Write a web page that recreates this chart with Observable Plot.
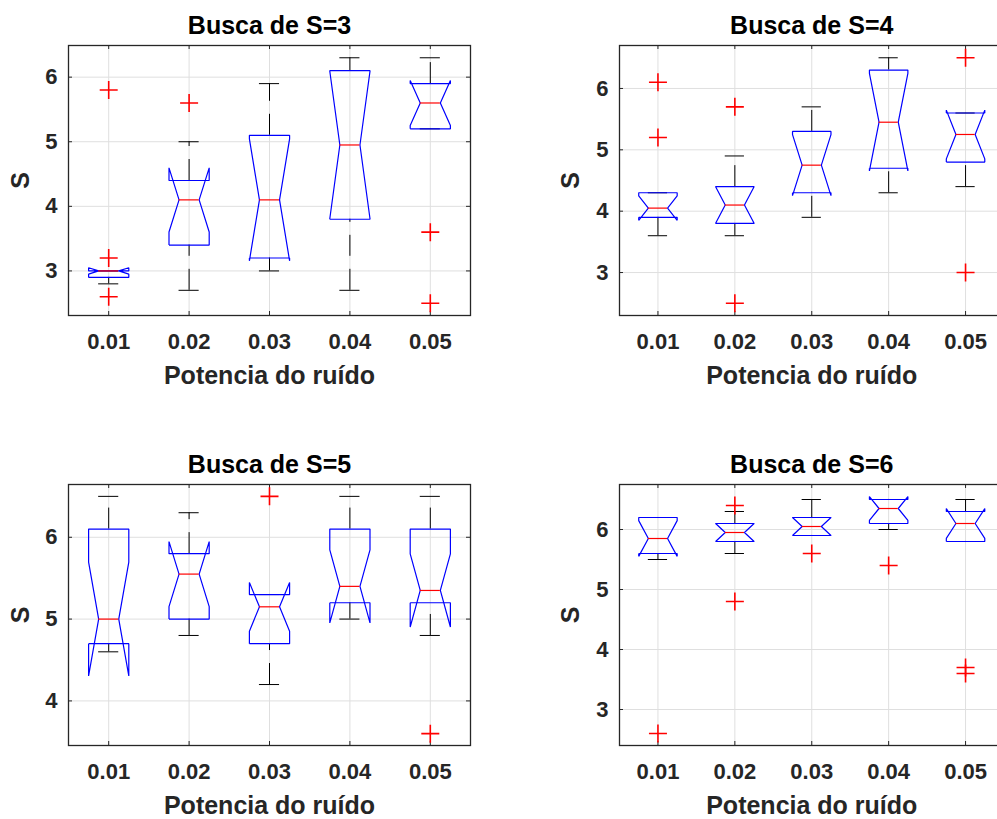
<!DOCTYPE html>
<html><head><meta charset="utf-8">
<script src="https://cdn.jsdelivr.net/npm/d3@7"></script>
<script src="https://cdn.jsdelivr.net/npm/@observablehq/plot@0.6"></script>
<style>
html,body{margin:0;padding:0;background:#fff;overflow:hidden;}
#chart{position:relative;width:997px;height:819px;overflow:hidden;background:#fff;}
#chart svg{position:absolute;}
</style></head><body><div id="chart"></div>
<script>
// ---- data ----
const noiseLevels = ["0.01", "0.02", "0.03", "0.04", "0.05"];
const panelTitles = ["Busca de S=3", "Busca de S=4", "Busca de S=5", "Busca de S=6"];
const xLabel = "Potencia do ruído";
const yLabel = "S";
const sampleCount = 10;

const s3_q1 = [2.9, 3.4, 3.2, 3.8, 5.2];
const s3_median = [3.0, 4.1, 4.1, 4.95, 5.6];
const s3_q3 = [3.0, 4.4, 5.1, 6.1, 5.9];
const s3_whiskerLow = [2.8, 2.7, 3.0, 2.7, 5.2];
const s3_whiskerHigh = [3.0, 5.0, 5.9, 6.3, 6.3];
const s3_outliers = [[5.8, 3.2, 2.6], [5.6], [], [], [3.6, 2.5]];
const s3_yTicks = [3, 4, 5, 6];
const s3_yDomain = [2.31, 6.49];

const s4_q1 = [3.9, 3.8, 4.3, 4.7, 4.8];
const s4_median = [4.05, 4.1, 4.75, 5.45, 5.25];
const s4_q3 = [4.3, 4.4, 5.3, 6.3, 5.6];
const s4_whiskerLow = [3.6, 3.6, 3.9, 4.3, 4.4];
const s4_whiskerHigh = [4.3, 4.9, 5.7, 6.5, 5.6];
const s4_outliers = [[6.1, 5.2], [5.7, 2.5], [], [], [6.5, 3.0]];
const s4_yTicks = [3, 4, 5, 6];
const s4_yDomain = [2.3, 6.7];

const s5_q1 = [4.7, 5.0, 4.7, 5.2, 5.2];
const s5_median = [5.0, 5.55, 5.15, 5.4, 5.35];
const s5_q3 = [6.1, 5.8, 5.3, 6.1, 6.1];
const s5_whiskerLow = [4.6, 4.8, 4.2, 5.0, 4.8];
const s5_whiskerHigh = [6.5, 6.3, 5.3, 6.5, 6.5];
const s5_outliers = [[], [], [6.5], [], [3.6]];
const s5_yTicks = [4, 5, 6];
const s5_yDomain = [3.455, 6.645];

const s6_q1 = [5.6, 5.8, 5.9, 6.1, 5.8];
const s6_median = [5.85, 5.95, 6.05, 6.35, 6.1];
const s6_q3 = [6.2, 6.1, 6.2, 6.5, 6.3];
const s6_whiskerLow = [5.5, 5.6, 5.9, 6.0, 5.8];
const s6_whiskerHigh = [6.2, 6.3, 6.5, 6.5, 6.5];
const s6_outliers = [[2.6], [6.4, 4.8], [5.6], [5.4], [3.7, 3.6]];
const s6_yTicks = [3, 4, 5, 6];
const s6_yDomain = [2.4, 6.75];

// ---- rendering ----
const container = document.getElementById("chart");
const FONT = "'Liberation Sans', Arial, Helvetica, sans-serif";
const plusSymbol = {
  draw(ctx, size) {
    const r = Math.sqrt(size / Math.PI);
    ctx.moveTo(-r, 0); ctx.lineTo(r, 0);
    ctx.moveTo(0, -r); ctx.lineTo(0, r);
  }
};

function buildPanel(p) {
  const idx = d3.range(p.q1.length);
  const xTicks = idx.map(i => i + 1);
  const hw = 0.25, nw = 0.125, cw = 0.125;
  const notch = i => 1.57 * (p.q3[i] - p.q1[i]) / Math.sqrt(sampleCount);
  const boxPts = idx.flatMap(i => {
    const c = i + 1, L = c - hw, R = c + hw, n = notch(i), m = p.med[i];
    return [[L, p.q1[i]], [L, m - n], [L + nw, m], [L, m + n], [L, p.q3[i]],
            [R, p.q3[i]], [R, m + n], [R - nw, m], [R, m - n], [R, p.q1[i]], [L, p.q1[i]]]
      .map(([x, y]) => ({box: i, x, y}));
  });
  const outs = idx.flatMap(i => p.outliers[i].map(v => ({x: i + 1, y: v})));
  const H = p.height - p.mt - p.mb, W = p.width - p.ml - p.mr;
  const dark = "#262626";
  const chart = Plot.plot({
    width: p.width, height: p.height,
    marginLeft: p.ml, marginRight: p.mr, marginTop: p.mt, marginBottom: p.mb,
    x: {domain: [0.5, 5.5]},
    y: {domain: p.domain},
    style: {fontFamily: FONT, background: "transparent", overflow: "visible"},
    marks: [
      Plot.gridX(xTicks, {x: d => d, stroke: "#dfdfdf", strokeOpacity: 1, strokeWidth: 1}),
      Plot.gridY(p.yTicks, {y: d => d, stroke: "#dfdfdf", strokeOpacity: 1, strokeWidth: 1}),
      // inner ticks
      Plot.ruleX(xTicks, {x: d => d, insetTop: H - 4, stroke: dark}),
      Plot.ruleX(xTicks, {x: d => d, insetBottom: H - 4, stroke: dark}),
      Plot.ruleY(p.yTicks, {y: d => d, insetRight: W - 4, stroke: dark}),
      Plot.ruleY(p.yTicks, {y: d => d, insetLeft: W - 4, stroke: dark}),
      // whiskers (dashed, drawn upward)
      Plot.ruleX(idx, {x: i => i + 1, y1: i => p.wLo[i], y2: i => p.q1[i], stroke: "black", strokeWidth: 1, strokeDasharray: "21 13"}),
      Plot.ruleX(idx, {x: i => i + 1, y1: i => p.q3[i], y2: i => p.wHi[i], stroke: "black", strokeWidth: 1, strokeDasharray: "21 13"}),
      // caps
      Plot.ruleY(idx, {y: i => p.wLo[i], x1: i => i + 1 - cw, x2: i => i + 1 + cw, stroke: "black", strokeWidth: 1}),
      Plot.ruleY(idx, {y: i => p.wHi[i], x1: i => i + 1 - cw, x2: i => i + 1 + cw, stroke: "black", strokeWidth: 1}),
      // notched boxes
      Plot.line(boxPts, {x: "x", y: "y", z: "box", stroke: "#0000ff", strokeWidth: 1.2, strokeLinejoin: "miter", strokeLinecap: "butt"}),
      // medians
      Plot.ruleY(idx, {y: i => p.med[i], x1: i => i + 1 - hw + nw, x2: i => i + 1 + hw - nw, stroke: "#ff0000", strokeWidth: 1.2}),
      // outliers
      Plot.dot(outs, {x: "x", y: "y", symbol: plusSymbol, r: 9, stroke: "#ff0000", fill: "none", strokeWidth: 1.6}),
      Plot.frame({stroke: dark, strokeWidth: 1.3}),
      Plot.axisX(xTicks, {tickFormat: d => noiseLevels[d - 1], tickSize: 0, tickPadding: 18, fontSize: 22, fontWeight: "bold", color: dark, label: null}),
      Plot.axisY(p.yTicks, {tickFormat: d3.format("d"), tickSize: 0, tickPadding: 11, fontSize: 22, fontWeight: "bold", color: dark, label: null}),
      Plot.text([p.title], {text: d => d, frameAnchor: "top", dy: -12, lineAnchor: "bottom", fontSize: 25, fontWeight: "bold", fill: "black"}),
      Plot.text([xLabel], {text: d => d, frameAnchor: "bottom", dy: 68, lineAnchor: "bottom", fontSize: 25, fontWeight: "bold", fill: dark}),
      Plot.text([yLabel], {text: d => d, frameAnchor: "left", dx: p.sdx, rotate: -90, lineAnchor: "middle", textAnchor: "middle", fontSize: 25, fontWeight: "bold", fill: dark})
    ]
  });
  chart.style.left = p.left + "px";
  chart.style.top = p.top + "px";
  container.append(chart);
}

buildPanel({title: panelTitles[0], q1: s3_q1, med: s3_median, q3: s3_q3, wLo: s3_whiskerLow, wHi: s3_whiskerHigh, outliers: s3_outliers,
  yTicks: s3_yTicks, domain: s3_yDomain, left: 0, top: 0, width: 500, height: 410, ml: 68, mr: 30, mt: 45, mb: 95, sdx: -48});
buildPanel({title: panelTitles[1], q1: s4_q1, med: s4_median, q3: s4_q3, wLo: s4_whiskerLow, wHi: s4_whiskerHigh, outliers: s4_outliers,
  yTicks: s4_yTicks, domain: s4_yDomain, left: 540, top: 0, width: 480, height: 410, ml: 79, mr: 16.5, mt: 45, mb: 95, sdx: -49});
buildPanel({title: panelTitles[2], q1: s5_q1, med: s5_median, q3: s5_q3, wLo: s5_whiskerLow, wHi: s5_whiskerHigh, outliers: s5_outliers,
  yTicks: s5_yTicks, domain: s5_yDomain, left: 0, top: 440, width: 500, height: 379, ml: 68, mr: 30, mt: 44, mb: 74, sdx: -48});
buildPanel({title: panelTitles[3], q1: s6_q1, med: s6_median, q3: s6_q3, wLo: s6_whiskerLow, wHi: s6_whiskerHigh, outliers: s6_outliers,
  yTicks: s6_yTicks, domain: s6_yDomain, left: 540, top: 440, width: 480, height: 379, ml: 79, mr: 16.5, mt: 44, mb: 74, sdx: -49});
</script>
</body></html>
